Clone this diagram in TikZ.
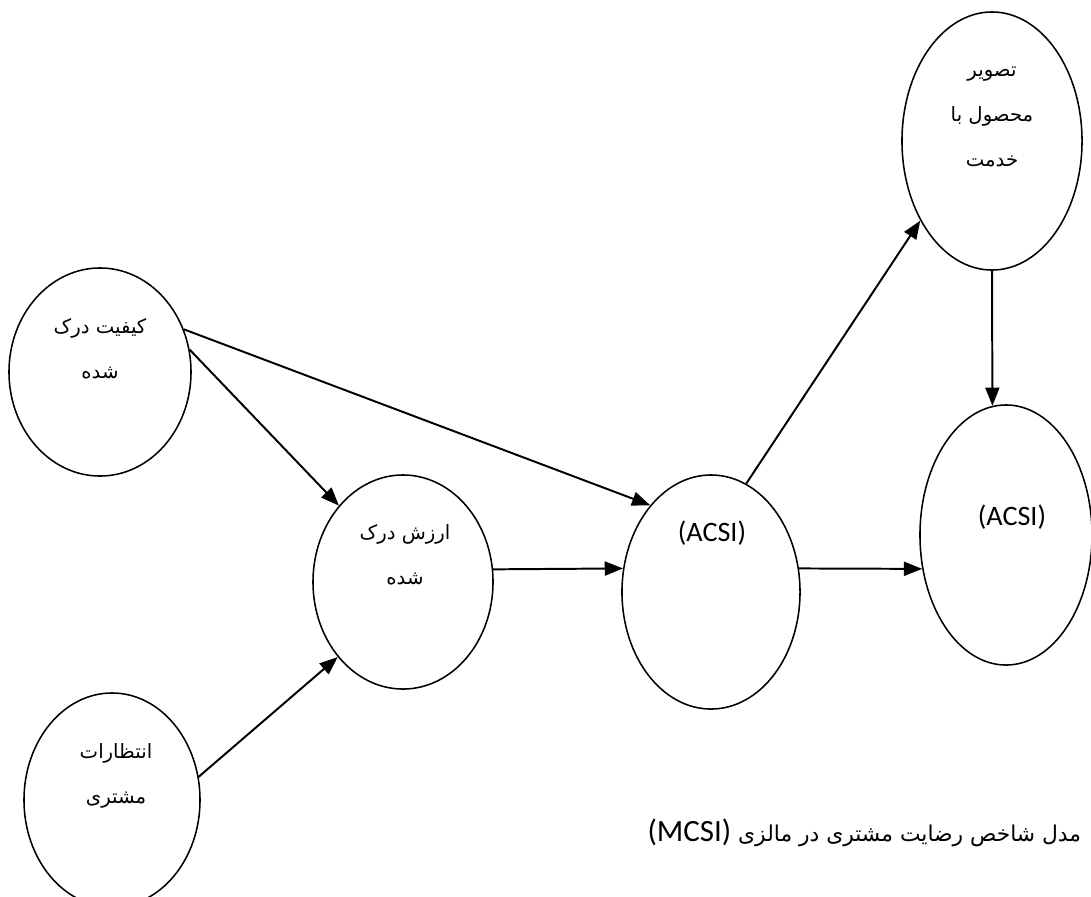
\documentclass[tikz,border=0pt]{standalone}
\usepackage{fontspec}
\usepackage{tikz}
\usetikzlibrary{shapes.geometric,arrows.meta}
\TeXXeTstate=1
\newfontfamily\arabicfont[Script=Arabic]{DejaVu Sans}
\newfontfamily\latinfont{Carlito}
\newcommand{\fatext}[1]{{\arabicfont\beginR #1\endR}}

\begin{document}
\begin{tikzpicture}[x=0.025cm, y=-0.025cm,
  oval/.style={draw, ellipse, line width=1.1pt, inner sep=0pt},
  lbl/.style={align=center, font=\fontsize{14}{32}\selectfont},
  acsi/.style={font=\latinfont\fontsize{20}{24}\selectfont},
  caption/.style={font=\fontsize{15.5}{20}\selectfont},
  link/.style={-{Triangle[length=13pt,width=10pt]}, line width=1.4pt}]
  \useasboundingbox (0,0) rectangle (1091,896);
  \node[oval, minimum width=4.5cm, minimum height=6.45cm] (image) at (992,141) {};
  \node[oval, minimum width=4.55cm, minimum height=5.2cm] (quality) at (100,372) {};
  \node[oval, minimum width=4.5cm, minimum height=5.35cm] (value) at (403,582) {};
  \node[oval, minimum width=4.45cm, minimum height=5.85cm] (acsim) at (711,592) {};
  \node[oval, minimum width=4.3cm, minimum height=6.5cm] (acsir) at (1006,535) {};
  \node[oval, minimum width=4.4cm, minimum height=5.35cm] (expect) at (112,800) {};
  \node[lbl] (image-txt) at (992,117) {\fatext{تصویر}\\\fatext{محصول با}\\\fatext{خدمت}};
  \node[lbl] (quality-txt) at (100,349) {\fatext{کیفیت درک}\\\fatext{شده}};
  \node[lbl] (value-txt) at (405,555) {\fatext{ارزش درک}\\\fatext{شده}};
  \node[lbl] (expect-txt) at (116,776) {\fatext{انتظارات}\\\fatext{مشتری}};
  \node[acsi] (acsim-txt) at (712,533) {(ACSI)};
  \node[acsi] (acsir-txt) at (1012,517) {(ACSI)};
  \node[caption, anchor=east] (title) at (1086,833) {\fatext{مدل شاخص رضایت مشتری در مالزی \beginL{\latinfont\fontsize{22}{24}\selectfont (MCSI)}\endL}};
  \draw[link] (quality.27) -- (acsim.125);
  \draw[link] (quality.14) -- (value.130);
  \draw[link] (expect.15) -- (value.229);
  \draw[link] (value.8) -- (acsim.165);
  \draw[link] (acsim.72) -- (image.228);
  \draw[link] (image.south) -- (acsir.96);
  \draw[link] (acsim.15) -- (acsir.202);
\end{tikzpicture}
\end{document}
